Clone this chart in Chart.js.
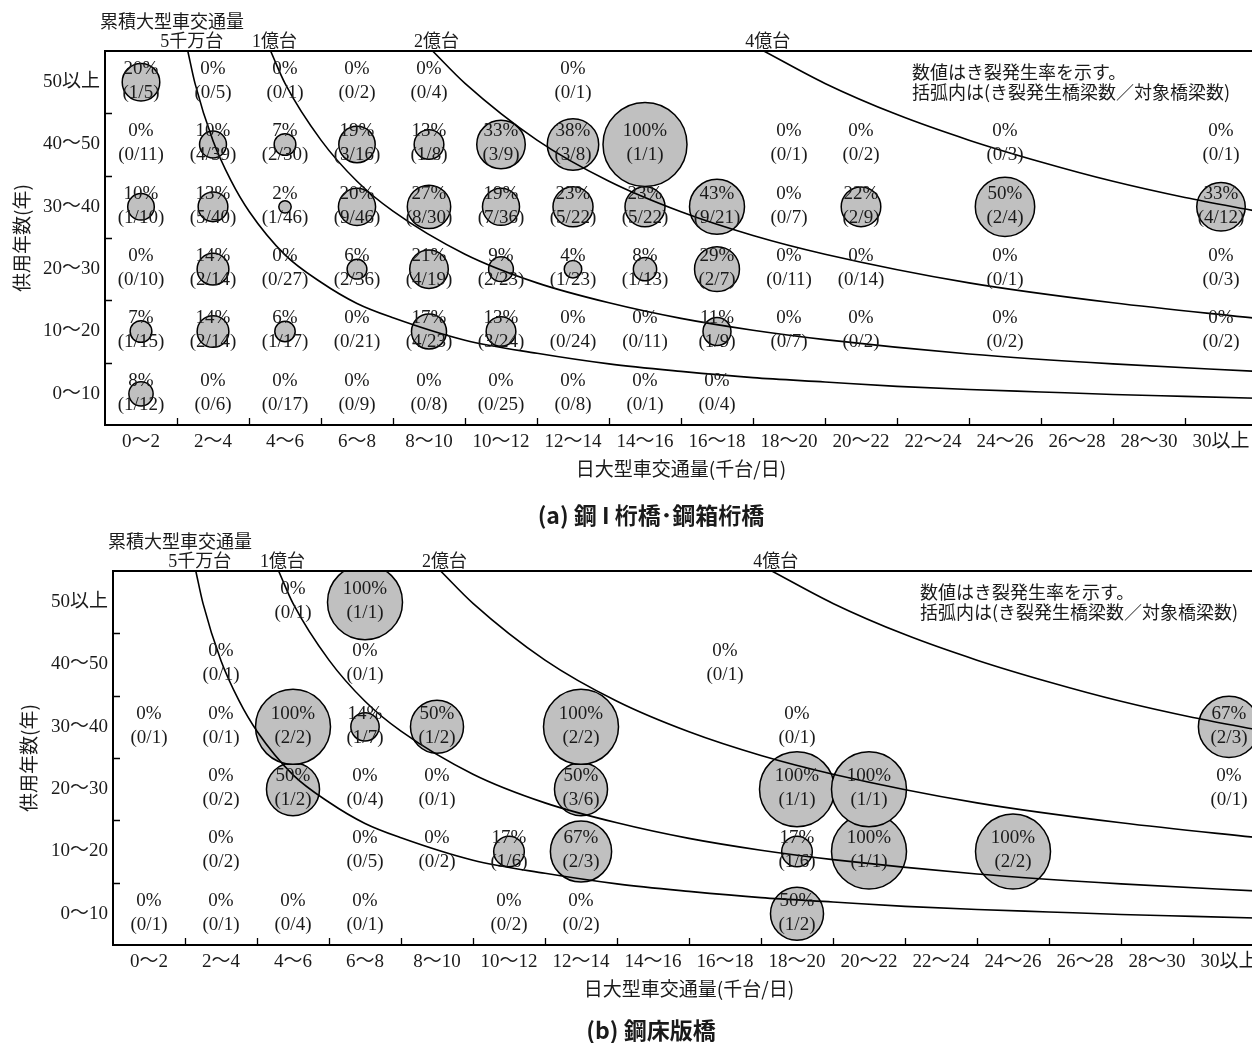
<!DOCTYPE html>
<html lang="ja">
<head>
<meta charset="utf-8">
<script src="https://cdn.jsdelivr.net/npm/chart.js@4/dist/chart.umd.min.js"></script>
<style>
  html, body { margin: 0; padding: 0; background: #fff; width: 1252px; height: 1043px; overflow: hidden; }
  canvas { position: absolute; left: 0; }
  #girder { top: 0; }
  #deck { top: 520px; }
</style>
</head>
<body>
<canvas id="girder" width="1270" height="530"></canvas>
<canvas id="deck" width="1270" height="523"></canvas>
<script>
const xLabels = ['0～2', '2～4', '4～6', '6～8', '8～10', '10～12', '12～14', '14～16',
  '16～18', '18～20', '20～22', '22～24', '24～26', '26～28', '28～30', '30以上'];
const yLabels = ['0～10', '10～20', '20～30', '30～40', '40～50', '50以上'];

// cracked / total bridges per cell, rows from 0～10 upward, columns follow xLabels
const girderCells = [
  ['1/12', '0/6', '0/17', '0/9', '0/8', '0/25', '0/8', '0/1', '0/4', null, null, null, null, null, null, null],
  ['1/15', '2/14', '1/17', '0/21', '4/23', '3/24', '0/24', '0/11', '1/9', '0/7', '0/2', null, '0/2', null, null, '0/2'],
  ['0/10', '2/14', '0/27', '2/36', '4/19', '2/23', '1/23', '1/13', '2/7', '0/11', '0/14', null, '0/1', null, null, '0/3'],
  ['1/10', '5/40', '1/46', '9/46', '8/30', '7/36', '5/22', '5/22', '9/21', '0/7', '2/9', null, '2/4', null, null, '4/12'],
  ['0/11', '4/39', '2/30', '3/16', '1/8', '3/9', '3/8', '1/1', null, '0/1', '0/2', null, '0/3', null, null, '0/1'],
  ['1/5', '0/5', '0/1', '0/2', '0/4', null, '0/1', null, null, null, null, null, null, null, null, null]
];
const deckCells = [
  ['0/1', '0/1', '0/4', '0/1', null, '0/2', '0/2', null, null, '1/2', null, null, null, null, null, null],
  [null, '0/2', null, '0/5', '0/2', '1/6', '2/3', null, null, '1/6', '1/1', null, '2/2', null, null, null],
  [null, '0/2', '1/2', '0/4', '0/1', null, '3/6', null, null, '1/1', '1/1', null, null, null, null, '0/1'],
  ['0/1', '0/1', '2/2', '1/7', '1/2', null, '2/2', null, null, '0/1', null, null, null, null, null, '2/3'],
  [null, '0/1', null, '0/1', null, null, null, null, '0/1', null, null, null, null, null, null, null],
  [null, null, '0/1', '1/1', null, null, null, null, null, null, null, null, null, null, null, null]
];

// cumulative heavy-vehicle traffic lines: x = 千台/日, y = 年
const curveNames = ['5千万台', '1億台', '2億台', '4億台'];
const cum50m = [
  {x: 2.3, y: 60}, {x: 2.5, y: 54.8}, {x: 3, y: 45.6}, {x: 3.5, y: 39.2}, {x: 4, y: 34.3},
  {x: 5, y: 27.3}, {x: 6, y: 22.9}, {x: 7, y: 19.5}, {x: 8, y: 17.2}, {x: 10, y: 13.6},
  {x: 12, y: 11.5}, {x: 14, y: 9.8}, {x: 16, y: 8.6}, {x: 18, y: 7.6}, {x: 20, y: 6.9},
  {x: 22, y: 6.2}, {x: 24, y: 5.7}, {x: 26, y: 5.3}, {x: 28, y: 4.9}, {x: 30, y: 4.6}, {x: 32, y: 4.3}
];
const cum100m = [
  {x: 4.6, y: 60}, {x: 5, y: 54.8}, {x: 6, y: 45.7}, {x: 7, y: 39.1}, {x: 8, y: 34.3},
  {x: 10, y: 27.4}, {x: 12, y: 22.8}, {x: 14, y: 19.6}, {x: 16, y: 17.1}, {x: 18, y: 15.2},
  {x: 20, y: 13.7}, {x: 24, y: 11.4}, {x: 28, y: 9.8}, {x: 32, y: 8.6}
];
const cum200m = [
  {x: 9.1, y: 60}, {x: 10, y: 54.8}, {x: 12, y: 45.7}, {x: 14, y: 39.1}, {x: 16, y: 34.2},
  {x: 18, y: 30.4}, {x: 20, y: 27.4}, {x: 24, y: 22.8}, {x: 28, y: 19.6}, {x: 32, y: 17.1}
];
const cum400m = [
  {x: 18.3, y: 60}, {x: 20, y: 54.8}, {x: 22, y: 49.8}, {x: 24, y: 45.7}, {x: 26, y: 42.2},
  {x: 28, y: 39.1}, {x: 30, y: 36.5}, {x: 32, y: 34.3}
];
const curves = [cum50m, cum100m, cum200m, cum400m];

const SERIF = '"Liberation Serif", "Noto Sans CJK JP", serif';
const GOTHIC = '"Noto Sans CJK JP", sans-serif';
const INK = '#1a1a1a';

function overlay(cfg) {
  return {
    id: 'overlay',
    afterDatasetsDraw(chart) {
      const {ctx, chartArea: a, scales: {x, y}} = chart;
      ctx.save();
      ctx.strokeStyle = '#000';
      ctx.lineWidth = 2;
      ctx.beginPath();
      ctx.moveTo(a.left - 1, a.top);
      ctx.lineTo(chart.width, a.top);
      ctx.stroke();

      // inward tick marks on the class boundaries
      ctx.lineWidth = 1.3;
      ctx.beginPath();
      for (let v = 2; v < 32; v += 2) {
        const px = Math.round(x.getPixelForValue(v)) + 0.5;
        ctx.moveTo(px, a.bottom);
        ctx.lineTo(px, a.bottom - 7);
      }
      for (let v = 10; v < 60; v += 10) {
        const py = Math.round(y.getPixelForValue(v)) + 0.5;
        ctx.moveTo(a.left, py);
        ctx.lineTo(a.left + 7, py);
      }
      ctx.stroke();

      // rate and count per cell
      ctx.fillStyle = INK;
      ctx.textAlign = 'center';
      ctx.textBaseline = 'middle';
      ctx.font = '19px ' + SERIF;
      cfg.cells.forEach((row, j) => row.forEach((cell, i) => {
        if (!cell) return;
        const [c, n] = cell.split('/').map(Number);
        const px = x.getPixelForValue(2 * i + 1);
        const py = y.getPixelForValue(10 * j + 5);
        ctx.fillText(Math.round(100 * c / n) + '%', px, py - 13);
        ctx.fillText('(' + c + '/' + n + ')', px, py + 11);
      }));

      // curve captions above the frame
      ctx.font = '18px ' + SERIF;
      curves.forEach((pts, k) => {
        ctx.fillText(curveNames[k], x.getPixelForValue(pts[0].x) + 4, a.top - 9);
      });
      ctx.textAlign = 'left';
      ctx.fillText('累積大型車交通量', a.left - 5, a.top - 28);

      ctx.font = '18px ' + GOTHIC;
      ctx.fillText('数値はき裂発生率を示す。', a.left + 807, a.top + 21);
      ctx.fillText('括弧内は(き裂発生橋梁数／対象橋梁数)', a.left + 807, a.top + 41);

      ctx.textAlign = 'center';
      ctx.font = 'bold 23px ' + GOTHIC;
      ctx.fillText(cfg.caption, 651, cfg.captionY);
      ctx.restore();
    }
  };
}

function makeChart(id, cells, opts) {
  const bubbles = [];
  cells.forEach((row, j) => row.forEach((cell, i) => {
    if (!cell) return;
    const [c, n] = cell.split('/').map(Number);
    if (c > 0) bubbles.push({x: 2 * i + 1, y: 10 * j + 5, r: opts.maxRadius * Math.sqrt(c / n)});
  }));

  const lines = curves.map(pts => ({
    type: 'line',
    data: pts,
    borderColor: '#000',
    borderWidth: 1.6,
    pointRadius: 0,
    fill: false,
    cubicInterpolationMode: 'monotone',
    order: 0
  }));

  return new Chart(document.getElementById(id), {
    type: 'bubble',
    data: {
      datasets: [...lines, {
        type: 'bubble',
        data: bubbles,
        backgroundColor: '#c0c0c0',
        borderColor: '#000',
        borderWidth: 1.5,
        clip: 0,
        order: 1
      }]
    },
    options: {
      responsive: false,
      animation: false,
      events: [],
      layout: {
        autoPadding: false,
        padding: {top: 51, left: 0, right: 1270 - opts.right, bottom: opts.padBottom}
      },
      plugins: {legend: {display: false}, tooltip: {enabled: false}},
      scales: {
        x: {
          type: 'linear',
          min: 0,
          max: 32,
          afterBuildTicks: s => { s.ticks = xLabels.map((_, i) => ({value: 2 * i + 1})); },
          afterFit: s => { s.height = 95; s.paddingLeft = 0; s.paddingRight = 0; },
          ticks: {
            callback: (v, i) => xLabels[i],
            font: {family: SERIF, size: 19},
            color: INK,
            padding: 6,
            maxRotation: 0,
            autoSkip: false
          },
          grid: {display: false, drawTicks: false},
          border: {display: true, color: '#000', width: 2},
          title: {
            display: true,
            text: '日大型車交通量(千台/日)',
            font: {family: GOTHIC, size: 19},
            color: INK,
            padding: {top: 0, bottom: 40}
          }
        },
        y: {
          type: 'linear',
          min: 0,
          max: 60,
          afterBuildTicks: s => { s.ticks = yLabels.map((_, j) => ({value: 10 * j + 5})); },
          afterFit: s => { s.width = opts.left; s.paddingTop = 0; s.paddingBottom = 0; },
          ticks: {
            callback: (v, i) => yLabels[i],
            font: {family: SERIF, size: 19},
            color: INK,
            padding: 5,
            autoSkip: false
          },
          grid: {display: false, drawTicks: false},
          border: {display: true, color: '#000', width: 2},
          title: {
            display: true,
            text: '供用年数(年)',
            font: {family: GOTHIC, size: 19},
            color: INK,
            padding: {top: opts.titleGap, bottom: 0}
          }
        }
      }
    },
    plugins: [overlay({cells, caption: opts.caption, captionY: opts.captionY})]
  });
}

makeChart('girder', girderCells, {
  maxRadius: 42, left: 105, right: 1257, padBottom: 10, titleGap: 10,
  caption: '(a) 鋼 I 桁橋･鋼箱桁橋', captionY: 515
});
makeChart('deck', deckCells, {
  maxRadius: 37.5, left: 113, right: 1265, padBottom: 3, titleGap: 17,
  caption: '(b) 鋼床版橋', captionY: 510
});
</script>
</body>
</html>
